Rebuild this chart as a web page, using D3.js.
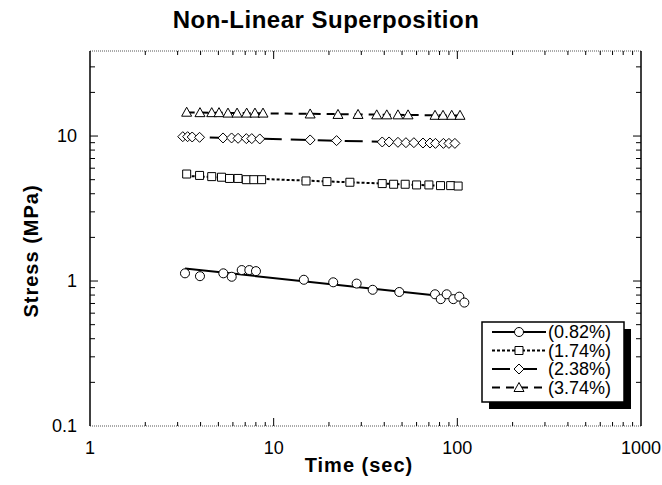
<!DOCTYPE html>
<html>
<head>
<meta charset="utf-8">
<script src="https://cdn.jsdelivr.net/npm/d3@7"></script>
<style>
  body { margin: 0; background: #fff; }
  svg { font-family: "Liberation Sans", Arial, sans-serif; }
</style>
</head>
<body>
<svg width="662" height="485"></svg>
<script>
// strain levels (legend labels)
const seriesNames = ["(0.82%)", "(1.74%)", "(2.38%)", "(3.74%)"];

// time (sec) and stress (MPa)
const t082 = [3.29, 3.97, 5.32, 5.91, 6.70, 7.37, 8.01, 14.6, 21.1, 28.3, 34.6, 48.3, 75.6, 81.2, 87.5, 95.1, 102.5, 109.2];
const s082 = [1.13, 1.08, 1.13, 1.07, 1.19, 1.19, 1.17, 1.02, 0.98, 0.96, 0.87, 0.84, 0.81, 0.75, 0.81, 0.75, 0.78, 0.71];

const t174 = [3.36, 3.95, 4.6, 5.2, 5.75, 6.4, 7.1, 7.8, 8.6, 15.0, 19.5, 26.0, 39.0, 45.0, 52.0, 60.0, 70.0, 81.0, 92.0, 101.0];
const s174 = [5.47, 5.35, 5.25, 5.2, 5.1, 5.1, 5.0, 5.0, 5.0, 4.9, 4.85, 4.8, 4.7, 4.65, 4.65, 4.6, 4.6, 4.55, 4.55, 4.52];

const t238 = [3.2, 3.4, 3.6, 3.95, 5.3, 5.9, 6.4, 7.1, 7.6, 8.4, 15.8, 22.0, 39.0, 42.5, 47.5, 52.5, 58.0, 65.0, 71.0, 76.0, 84.0, 90.0, 97.0];
const s238 = [9.9, 9.9, 9.85, 9.8, 9.7, 9.7, 9.65, 9.6, 9.6, 9.55, 9.4, 9.3, 9.1, 9.1, 9.05, 9.0, 9.0, 8.95, 8.95, 8.9, 8.9, 8.9, 8.9];

const t374 = [3.36, 3.97, 4.6, 5.04, 5.64, 6.32, 7.13, 7.91, 8.75, 15.8, 22.4, 28.8, 36.4, 41.3, 47.5, 53.9, 75.6, 83.6, 93.2, 103.4];
const s374 = [14.6, 14.5, 14.5, 14.5, 14.4, 14.4, 14.4, 14.4, 14.4, 14.2, 14.1, 14.1, 14.0, 14.0, 14.0, 14.0, 13.9, 13.9, 13.9, 13.9];

const xTickLabels = [1, 10, 100, 1000];
const yTickLabels = [0.1, 1, 10];

const series = [
  {name: seriesNames[0], t: t082, s: s082, marker: "circle",   dash: null},
  {name: seriesNames[1], t: t174, s: s174, marker: "square",   dash: "3,2"},
  {name: seriesNames[2], t: t238, s: s238, marker: "diamond",  dash: "18,9"},
  {name: seriesNames[3], t: t374, s: s374, marker: "triangle", dash: "8,6"}
];

const svg = d3.select("svg");
const pLeft = 90, pRight = 641, pTop = 51, pBottom = 426;

const x = d3.scaleLog().domain([1, 1000]).range([pLeft, pRight]);
const y = d3.scaleLog().domain([0.1, 38.6]).range([pBottom, pTop]);

// title
svg.append("text")
  .attr("x", 326).attr("y", 28)
  .attr("text-anchor", "middle")
  .style("font-size", "24px").style("font-weight", "bold")
  .style("letter-spacing", "0.5px")
  .text("Non-Linear Superposition");

// axis titles
svg.append("text")
  .attr("x", 359).attr("y", 472)
  .attr("text-anchor", "middle")
  .style("font-size", "20px").style("font-weight", "bold")
  .style("letter-spacing", "1px")
  .text("Time (sec)");

svg.append("text")
  .attr("transform", "translate(38, 251) rotate(-90)")
  .attr("text-anchor", "middle")
  .style("font-size", "20px").style("font-weight", "bold")
  .style("letter-spacing", "1px")
  .text("Stress (MPa)");

// frame
const frame = svg.append("g");
frame.append("line").attr("x1", pLeft).attr("x2", pRight).attr("y1", pTop).attr("y2", pTop)
  .attr("stroke", "#555").attr("stroke-dasharray", "1,1");
frame.append("line").attr("x1", pLeft).attr("x2", pRight).attr("y1", pBottom).attr("y2", pBottom)
  .attr("stroke", "#555").attr("stroke-dasharray", "1,1");
frame.append("line").attr("x1", pLeft).attr("x2", pLeft).attr("y1", pTop).attr("y2", pBottom)
  .attr("stroke", "#000").attr("stroke-width", 1.5);
frame.append("line").attr("x1", pRight).attr("x2", pRight).attr("y1", pTop).attr("y2", pBottom)
  .attr("stroke", "#000").attr("stroke-width", 1.5);

// ticks on all four sides, pointing inward
const xTicks = x.ticks();
const yTicks = y.ticks();
const isMajor = v => Math.abs(Math.log10(v) - Math.round(Math.log10(v))) < 1e-6;

const tg = svg.append("g").attr("stroke", "#000").attr("stroke-width", 1);
xTicks.filter(v => v > 1 && v < 1000).forEach(v => {
  const len = isMajor(v) ? 8 : 4;
  tg.append("line").attr("x1", x(v)).attr("x2", x(v)).attr("y1", pBottom).attr("y2", pBottom - len);
  tg.append("line").attr("x1", x(v)).attr("x2", x(v)).attr("y1", pTop).attr("y2", pTop + len);
});
yTicks.filter(v => v > 0.1).forEach(v => {
  const len = isMajor(v) ? 8 : 5;
  tg.append("line").attr("y1", y(v)).attr("y2", y(v)).attr("x1", pLeft).attr("x2", pLeft + len);
  tg.append("line").attr("y1", y(v)).attr("y2", y(v)).attr("x1", pRight).attr("x2", pRight - len);
});

// tick labels
svg.append("g").selectAll("text")
  .data(xTickLabels)
  .join("text")
  .attr("x", d => x(d)).attr("y", 454)
  .attr("text-anchor", "middle")
  .style("font-size", "18px")
  .text(d => d);

svg.append("g").selectAll("text")
  .data(yTickLabels)
  .join("text")
  .attr("x", 77).attr("y", d => y(d) + 6)
  .attr("text-anchor", "end")
  .style("font-size", "18px")
  .text(d => d);

// markers
function markerPath(kind) {
  if (kind === "square") return "M-4,-4H4V4H-4Z";
  if (kind === "diamond") return "M0,-5L5,0L0,5L-5,0Z";
  if (kind === "triangle") return "M0,-5L5,4H-5Z";
  return d3.symbol(d3.symbolCircle, 64)();
}

// power-law fit through each series (straight in log-log)
function fit(ts, ss) {
  const lx = ts.map(Math.log10), ly = ss.map(Math.log10);
  const mx = d3.mean(lx), my = d3.mean(ly);
  const b = d3.sum(lx, (v, i) => (v - mx) * (ly[i] - my)) / d3.sum(lx, v => (v - mx) * (v - mx));
  const a = my - b * mx;
  const t0 = d3.min(ts), t1 = d3.max(ts);
  return [[t0, Math.pow(10, a + b * Math.log10(t0))], [t1, Math.pow(10, a + b * Math.log10(t1))]];
}

const line = d3.line().x(d => x(d[0])).y(d => y(d[1]));
const plot = svg.append("g");

series.forEach(sr => {
  plot.append("path")
    .attr("d", line(fit(sr.t, sr.s)))
    .attr("fill", "none")
    .attr("stroke", "#000")
    .attr("stroke-width", 2)
    .attr("stroke-dasharray", sr.dash);

  plot.append("g").selectAll("path")
    .data(sr.t.map((t, i) => [t, sr.s[i]]))
    .join("path")
    .attr("transform", d => `translate(${x(d[0])},${y(d[1])})`)
    .attr("d", markerPath(sr.marker))
    .attr("fill", "#fff")
    .attr("stroke", "#000")
    .attr("stroke-width", 1);
});

// legend with drop shadow
const lg = svg.append("g").attr("transform", "translate(482, 322)");
lg.append("rect").attr("x", 7).attr("y", 7).attr("width", 142).attr("height", 80).attr("fill", "#000");
lg.append("rect").attr("x", 0).attr("y", 0).attr("width", 142).attr("height", 80)
  .attr("fill", "#fff").attr("stroke", "#000").attr("stroke-width", 1.5);

series.forEach((sr, i) => {
  const ry = 10 + i * 18.5;
  lg.append("line").attr("x1", 10).attr("x2", 64).attr("y1", ry).attr("y2", ry)
    .attr("stroke", "#000").attr("stroke-width", 2).attr("stroke-dasharray", sr.dash);
  lg.append("path").attr("transform", `translate(37,${ry})`)
    .attr("d", markerPath(sr.marker))
    .attr("fill", "#fff").attr("stroke", "#000");
  lg.append("text").attr("x", 66).attr("y", ry + 6)
    .style("font-size", "18px")
    .text(sr.name);
});
</script>
</body>
</html>
